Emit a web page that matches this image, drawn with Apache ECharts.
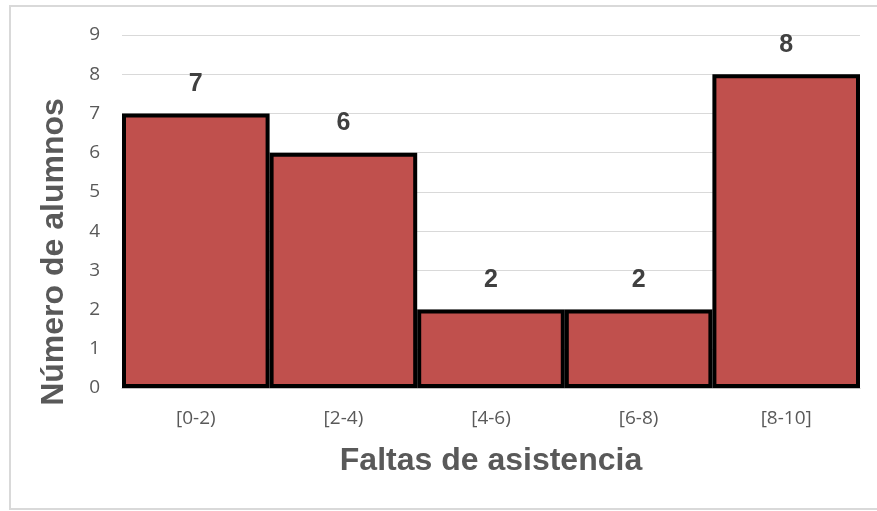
<!DOCTYPE html>
<html>
<head>
<meta charset="UTF-8">
<title>Faltas de asistencia</title>
<script src="https://cdn.jsdelivr.net/npm/echarts@6/dist/echarts.min.js"></script>
<style>
  html, body { margin: 0; padding: 0; background: #fff; }
  #main { width: 877px; height: 511px; }
</style>
</head>
<body>
<div id="main"></div>
<script>
// datos del histograma
var categorias = ['[0-2)', '[2-4)', '[4-6)', '[6-8)', '[8-10]'];
var alumnos = [7, 6, 2, 2, 8];
var yTicks = [0, 9, 1]; // min, max, intervalo

var chart = echarts.init(document.getElementById('main'));

var option = {
  animation: false,
  backgroundColor: '#fff',
  graphic: [{
    type: 'rect',
    shape: { x: 10, y: 6, width: 880, height: 503 },
    style: { fill: 'none', stroke: '#d9d9d9', lineWidth: 2 },
    silent: true
  }, {
    // titulo del eje Y (en el original queda algo mas abajo del centro)
    type: 'text',
    x: 54,
    y: 252,
    rotation: Math.PI / 2,
    style: {
      text: 'Número de alumnos',
      font: 'bold 32px "Liberation Sans"',
      fill: '#595959',
      align: 'center',
      verticalAlign: 'middle'
    },
    silent: true
  }],
  grid: { left: 122, right: 17, top: 35, bottom: 123 },
  xAxis: {
    type: 'category',
    data: categorias,
    name: 'Faltas de asistencia',
    nameLocation: 'middle',
    nameGap: 57,
    nameTextStyle: {
      fontFamily: 'Liberation Sans', fontWeight: 'bold', fontSize: 32, color: '#595959'
    },
    axisLine: { lineStyle: { color: '#bfbfbf', width: 1 } },
    axisTick: { show: false },
    axisLabel: {
      fontFamily: 'Open Sans', fontSize: 19, color: '#595959', margin: 21
    }
  },
  yAxis: {
    type: 'value',
    min: yTicks[0],
    max: yTicks[1],
    interval: yTicks[2],
    axisLine: { show: false },
    axisTick: { show: false },
    axisLabel: {
      fontFamily: 'Open Sans', fontSize: 19, color: '#595959', margin: 22
    },
    splitLine: { lineStyle: { color: '#d9d9d9', width: 1 } }
  },
  series: [{
    type: 'bar',
    data: alumnos,
    barCategoryGap: 0,
    itemStyle: { color: '#c0504d', borderColor: '#000', borderWidth: 4 },
    label: {
      show: true,
      position: 'top',
      distance: 17,
      fontFamily: 'Liberation Sans',
      fontWeight: 'bold',
      fontSize: 25,
      color: '#404040'
    }
  }]
};

chart.setOption(option);
</script>
</body>
</html>
